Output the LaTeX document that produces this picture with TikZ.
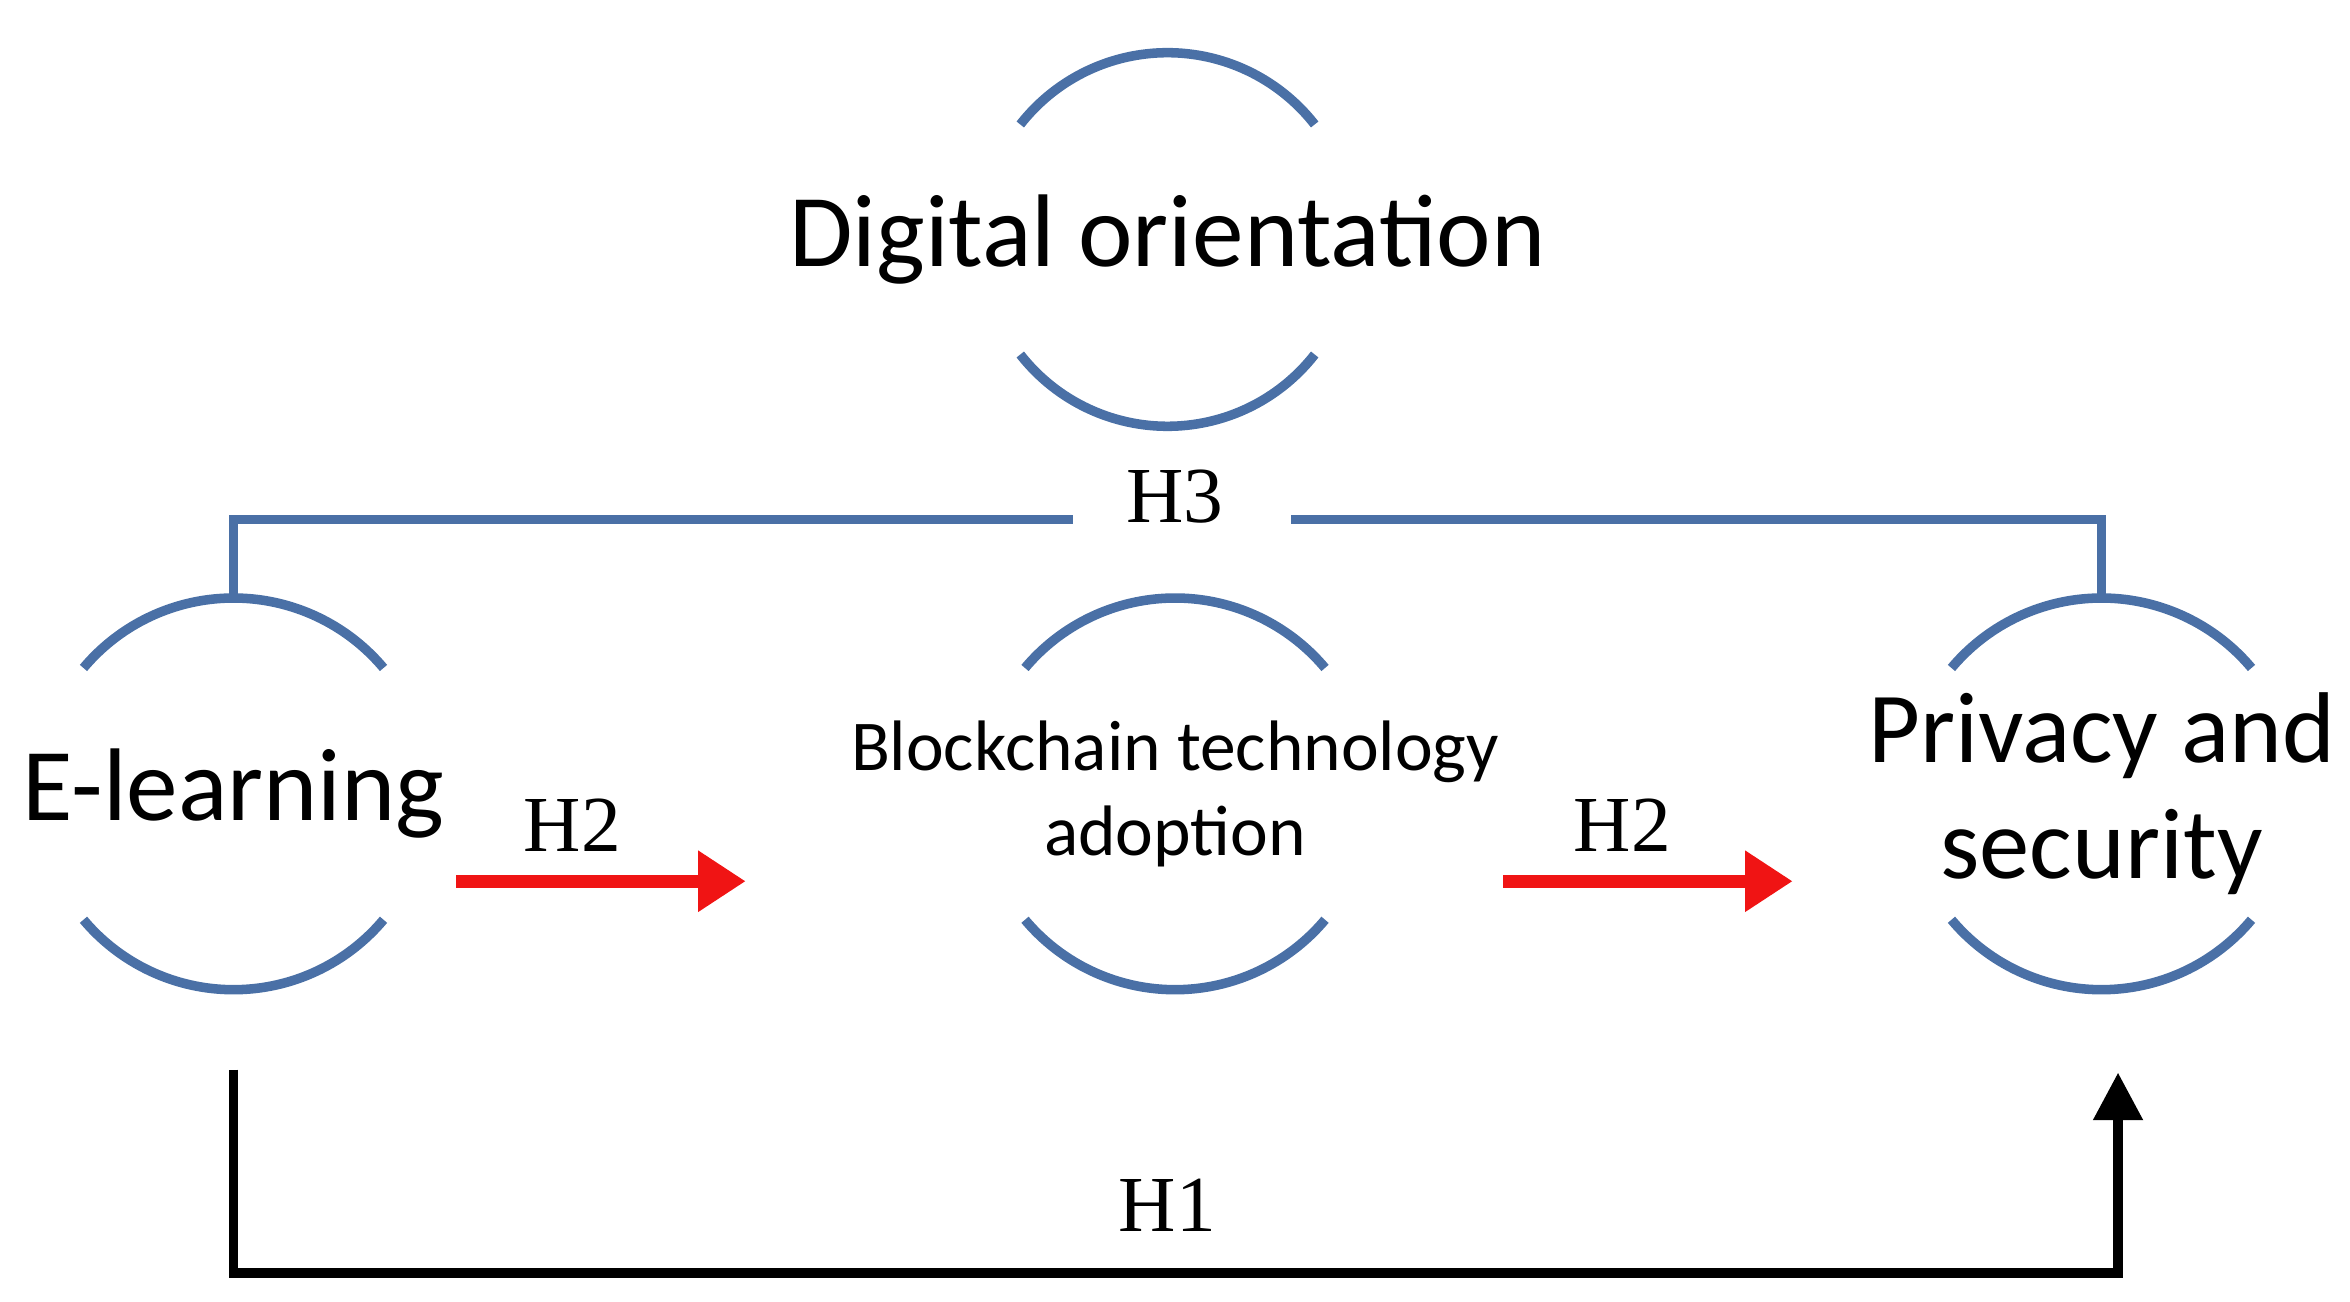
\documentclass[tikz,border=0pt]{standalone}
\usepackage{fontspec}
\setmainfont{Liberation Serif}
\newfontfamily\labelfont{Carlito}
\usetikzlibrary{arrows.meta,positioning,calc}
\definecolor{arcblue}{RGB}{74,112,166}
\definecolor{hred}{RGB}{240,20,20}

\begin{document}
\begin{tikzpicture}[
    construct/.style={inner sep=0pt, align=center, font=\labelfont},
    arcline/.style={draw=arcblue, line width=1.8pt},
    hyp/.style={font=\fontsize{15}{17}\selectfont, inner sep=1pt},
    redarrow/.style={-{Triangle[length=9pt,width=11pt]}, hred, line width=2.4pt},
    blackarrow/.style={-{Triangle[length=9pt,width=9pt]}, black, line width=1.8pt}
]
    \useasboundingbox (0,0) rectangle (15.6,8.64);

    \node[construct, font=\labelfont\fontsize{19.5}{24}\selectfont] (digital) at (7.75,7.05) {Digital orientation};
    \node[construct, font=\labelfont\fontsize{19.5}{24}\selectfont] (elearn) at (1.55,3.37) {E-learning};
    \node[construct, font=\labelfont\fontsize{13.5}{16}\selectfont] (block) at (7.80,3.37) {Blockchain technology\\adoption};
    \node[construct, font=\labelfont\fontsize{19}{22}\selectfont] (privacy) at (13.95,3.37) {Privacy and\\security};

    % arcs around the constructs
    \draw[arcline] ($(digital)+(38:1.24)$) arc (38:142:1.24);
    \draw[arcline] ($(digital)+(218:1.24)$) arc (218:322:1.24);
    \foreach \c in {elearn,block,privacy}{
        \draw[arcline] ($(\c)+(40:1.3)$) arc (40:140:1.3);
        \draw[arcline] ($(\c)+(220:1.3)$) arc (220:320:1.3);
    }

    % moderation
    \node[hyp] (h3) at (7.80,5.34) {H3};
    \coordinate (eltop) at (1.55,4.67);
    \coordinate (prtop) at (13.95,4.67);
    \coordinate (h3l) at (7.12,5.19);
    \coordinate (h3r) at (8.57,5.19);
    \draw[arcline] (eltop) |- (h3l);
    \draw[arcline] (prtop) |- (h3r);

    % mediation
    \coordinate (a1) at (3.03,2.79);
    \coordinate (a2) at (4.95,2.79);
    \coordinate (a3) at (9.98,2.79);
    \coordinate (a4) at (11.90,2.79);
    \draw[redarrow] (a1) -- (a2);
    \draw[redarrow] (a3) -- (a4);
    \node[hyp] (h2a) at (3.80,3.16) {H2};
    \node[hyp] (h2b) at (10.77,3.16) {H2};

    % direct effect
    \coordinate (elbot) at (1.55,1.54);
    \coordinate (prbot) at (14.06,1.52);
    \draw[blackarrow] (elbot) -- (1.55,0.19) -| (prbot);
    \node[hyp] (h1) at (7.75,0.64) {H1};
\end{tikzpicture}
\end{document}
